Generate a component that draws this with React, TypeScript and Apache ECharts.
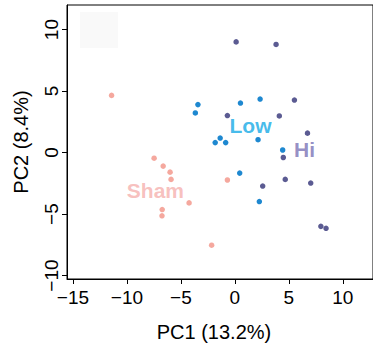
import React, { useEffect, useRef } from "react";
import * as echarts from "echarts";

const xTicks = [-15, -10, -5, 0, 5, 10];
const yTicks = [-10, -5, 0, 5, 10];

const shamX = [-11.42, -7.48, -6.64, -6.0, -5.91, -4.24, -6.73, -6.75, -2.15, -0.69];
const shamY = [4.65, -0.46, -1.1, -1.59, -2.18, -4.09, -4.63, -5.14, -7.53, -2.23];
const lowX = [-3.42, -3.66, 0.52, 2.34, -1.36, -1.82, -0.85, 2.15, 4.43, 0.45, 2.27];
const lowY = [3.9, 3.22, 4.03, 4.35, 1.18, 0.81, 0.81, 1.05, 0.21, -1.67, -3.98];
const hiX = [0.12, 3.82, 5.52, -0.69, 4.12, 6.73, 4.49, 4.67, 7.03, 2.58, 7.97, 8.45];
const hiY = [9.0, 8.79, 4.27, 3.01, 2.98, 1.58, -0.4, -2.18, -2.48, -2.72, -6.0, -6.16];

const groupNames = ["Sham", "Low", "Hi"];
const groupLabelX = [-7.36, 1.45, 6.45];
const groupLabelY = [-3.1, 2.2, 0.27];

const dotColors = ["#f5a89e", "#1e88d0", "#5b5b92"];
const textColors = ["#f6b0ae", "#16aae6", "#7b72b6"];

const fmt = (v: number) => (v < 0 ? "\u2212" + Math.abs(v) : String(v));
const zip = (xs: number[], ys: number[]) => xs.map((x, i) => [x, ys[i]]);

export default function App() {
  const ref = useRef<HTMLDivElement>(null);
  useEffect(() => {
    if (!ref.current) return;
    const chart = echarts.init(ref.current, undefined, { renderer: "svg" });
    const font = "'Liberation Sans', Arial, Helvetica, sans-serif";
    const groups = [zip(shamX, shamY), zip(lowX, lowY), zip(hiX, hiY)];
    chart.setOption({
      animation: false,
      backgroundColor: "#ffffff",
      grid: {
        left: 67,
        top: 5,
        width: 312,
        height: 274,
        show: true,
        borderColor: "#000",
        borderWidth: 1,
        backgroundColor: "transparent",
        containLabel: false,
      },
      graphic: [
        {
          type: "rect",
          shape: { x: 80, y: 12, width: 38, height: 36 },
          style: { fill: "#f9f9f9" },
          z: 0,
        },
      ],
      xAxis: {
        type: "value",
        min: -15.55,
        max: 12.8,
        name: "PC1 (13.2%)",
        nameLocation: "middle",
        nameGap: 43,
        nameTextStyle: { fontFamily: font, fontSize: 20, color: "#000", padding: [0, 12, 0, 0] },
        axisLine: { show: true, onZero: false, lineStyle: { color: "#000", width: 1 } },
        axisTick: { show: true, length: 5, inside: false, customValues: xTicks, lineStyle: { color: "#000" } },
        axisLabel: {
          customValues: xTicks,
          formatter: fmt,
          fontFamily: font,
          fontSize: 19,
          color: "#000",
          margin: 9,
        },
        splitLine: { show: false },
      },
      yAxis: {
        type: "value",
        min: -10.28,
        max: 12,
        name: "PC2 (8.4%)",
        nameLocation: "middle",
        nameGap: 36,
        nameTextStyle: { fontFamily: font, fontSize: 20, color: "#000" },
        axisLine: { show: true, onZero: false, lineStyle: { color: "#000", width: 1 } },
        axisTick: { show: true, length: 5, inside: false, customValues: yTicks, lineStyle: { color: "#000" } },
        axisLabel: {
          customValues: yTicks,
          formatter: fmt,
          rotate: 90,
          fontFamily: font,
          fontSize: 19,
          color: "#000",
          margin: 6,
        },
        splitLine: { show: false },
      },
      series: [
        ...groups.map((d, i) => ({
          type: "scatter",
          name: groupNames[i],
          data: d,
          symbol: "circle",
          symbolSize: 5.5,
          itemStyle: { color: dotColors[i], opacity: 1 },
          z: 3,
        })),
        {
          type: "scatter",
          name: "labels",
          symbolSize: 0,
          data: groupNames.map((n, i) => ({
            name: n,
            value: [groupLabelX[i], groupLabelY[i]],
            label: {
              show: true,
              position: "inside",
              formatter: "{b}",
              color: textColors[i],
              fontFamily: font,
              fontWeight: "bold",
              fontSize: 21,
            },
          })),
          z: 4,
        },
      ],
    });
    return () => chart.dispose();
  }, []);
  return (
    <div
      ref={ref}
      style={{ position: "absolute", left: 0, top: 0, width: 373, height: 349 }}
    />
  );
}
